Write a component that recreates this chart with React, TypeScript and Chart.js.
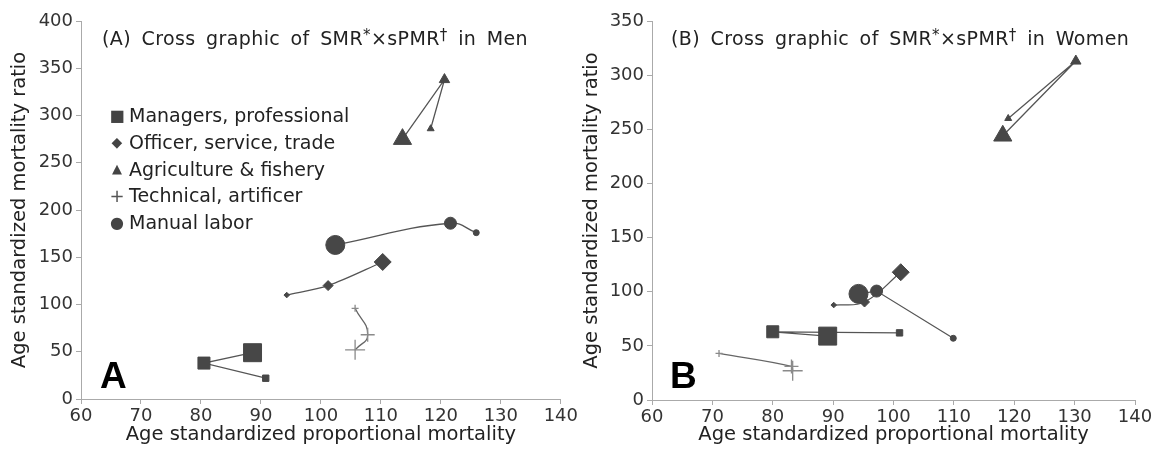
import React, { useEffect, useRef } from "react";
import { Chart, registerables } from "chart.js";

Chart.register(...registerables);

// ---------- data ----------
const groups = [
  "Managers, professional",
  "Officer, service, trade",
  "Agriculture & fishery",
  "Technical, artificer",
  "Manual labor",
];
const xTicks = [60, 70, 80, 90, 100, 110, 120, 130, 140];
const yTicksMen = [0, 50, 100, 150, 200, 250, 300, 350, 400];
const yTicksWomen = [0, 50, 100, 150, 200, 250, 300, 350];

// each series: three points, drawn large -> medium -> small marker
const menManagersX = [88.6, 80.5, 90.8];
const menManagersY = [49, 38, 22];
const menOfficerX = [110.3, 101.2, 94.3];
const menOfficerY = [145, 120, 110];
const menAgricultureX = [113.6, 120.6, 118.3];
const menAgricultureY = [275, 338, 286];
const menTechnicalX = [105.7, 107.8, 105.7];
const menTechnicalY = [52, 68, 96];
const menManualX = [102.4, 121.6, 125.9];
const menManualY = [163, 186, 176];

const womenManagersX = [89.1, 80.0, 101.0];
const womenManagersY = [59, 63, 62];
const womenOfficerX = [101.2, 95.2, 90.1];
const womenOfficerY = [118, 90.5, 87.7];
const womenAgricultureX = [118.1, 130.2, 119.0];
const womenAgricultureY = [244, 313, 260];
const womenTechnicalX = [83.3, 83.1, 71.1];
const womenTechnicalY = [27, 31, 43];
const womenManualX = [94.2, 97.2, 109.9];
const womenManualY = [98, 100.6, 57];

// ---------- styles ----------
const FONT = "DejaVu Sans";
const pointStyles = ["rect", "rectRot", "triangle", "cross", "circle"];
const radii = [
  [12.7, 8.5, 4.5],
  [8.5, 5, 2.8],
  [10.5, 6, 4],
  [10, 7, 3.5],
  [9.5, 6, 3],
];
const menTension = [0, 0.3, 0, 0.5, 0.45];
const womenTension = [0, 0.4, 0, 0.4, 0];

type Series = { x: number[]; y: number[] };

function buildDatasets(series: Series[], tensions: number[]) {
  return series.map((s, i) => ({
    label: groups[i],
    data: s.x.map((x, k) => ({ x, y: s.y[k] })),
    showLine: true,
    tension: tensions[i],
    borderColor: i === 3 ? "#666666" : "#555555",
    borderWidth: 1.3,
    pointStyle: pointStyles[i],
    pointRadius: radii[i],
    pointBackgroundColor: "#474747",
    pointBorderColor: i === 3 ? "#8a8a8a" : "#474747",
    pointBorderWidth: i === 3 ? 1.3 : 1,
    order: i === 4 ? -1 : i,
  }));
}

type PanelProps = {
  left: number;
  width: number;
  yMax: number;
  yTicks: number[];
  series: Series[];
  tensions: number[];
  yAxisWidth: number;
  xAxisHeight: number;
  padRight: number;
  yTitlePad: number;
  children?: React.ReactNode;
};

function Panel(p: PanelProps) {
  const ref = useRef<HTMLCanvasElement>(null);
  useEffect(() => {
    const axisColor = "#aaaaaa";
    const chart = new Chart(ref.current as HTMLCanvasElement, {
      type: "scatter",
      data: { datasets: buildDatasets(p.series, p.tensions) as any },
      options: {
        animation: false,
        responsive: true,
        maintainAspectRatio: false,
        events: [],
        layout: { padding: { left: 0, right: p.padRight, top: 21, bottom: 0 } },
        plugins: {
          legend: { display: false },
          tooltip: { enabled: false },
        },
        scales: {
          x: {
            type: "linear",
            min: 60,
            max: 140,
            afterBuildTicks: (s: any) => {
              s.ticks = xTicks.map((v) => ({ value: v }));
            },
            afterFit: (s: any) => {
              s.height = p.xAxisHeight;
            },
            grid: {
              display: true,
              drawOnChartArea: false,
              drawTicks: true,
              tickLength: 5,
              color: axisColor,
            },
            border: { display: true, color: axisColor, width: 1 },
            ticks: {
              font: { family: FONT, size: 18 },
              color: "#333333",
              padding: 2,
              maxRotation: 0,
              autoSkip: false,
            },
            title: {
              display: true,
              text: "Age standardized proportional mortality",
              font: { family: FONT, size: 19.5 },
              color: "#222222",
              padding: { top: 0, bottom: 3 },
            },
          },
          y: {
            type: "linear",
            min: 0,
            max: p.yMax,
            afterBuildTicks: (s: any) => {
              s.ticks = p.yTicks.map((v) => ({ value: v }));
            },
            afterFit: (s: any) => {
              s.width = p.yAxisWidth;
            },
            grid: {
              display: true,
              drawOnChartArea: false,
              drawTicks: true,
              tickLength: 5,
              color: axisColor,
            },
            border: { display: true, color: axisColor, width: 1 },
            ticks: {
              font: { family: FONT, size: 18 },
              color: "#333333",
              padding: 3,
              autoSkip: false,
            },
            title: {
              display: true,
              text: "Age standardized mortality ratio",
              font: { family: FONT, size: 19.5 },
              color: "#222222",
              padding: { top: p.yTitlePad, bottom: 0 },
            },
          },
        },
      } as any,
    });
    return () => chart.destroy();
  }, []);
  return (
    <div style={{ position: "absolute", left: p.left, top: 0, width: p.width, height: 450 }}>
      <canvas ref={ref} />
      {p.children}
    </div>
  );
}

const supStyle: React.CSSProperties = {
  fontSize: 15,
  verticalAlign: "top",
  position: "relative",
  top: -3,
};

function PanelTitle({ x, letter, who }: { x: number; letter: string; who: string }) {
  return (
    <div
      style={{
        position: "absolute",
        left: x,
        top: 28,
        font: `19px "${FONT}"`,
        lineHeight: "20px",
        color: "#222",
        whiteSpace: "nowrap",
        letterSpacing: "0.4px",
        wordSpacing: "4px",
      }}
    >
      ({letter}) Cross graphic of SMR<span style={supStyle}>*</span>×sPMR
      <span style={supStyle}>†</span> in {who}
    </div>
  );
}

const legendSymbols = ["■", "◆", "▲", "+", "●"];
const legendSymbolSize = [16, 14, 13, 18, 16];

function Legend() {
  return (
    <div style={{ position: "absolute", left: 108, top: 102, font: `19px "${FONT}"`, color: "#222" }}>
      {groups.map((g, i) => (
        <div key={g} style={{ display: "flex", alignItems: "center", height: 26.7, whiteSpace: "nowrap" }}>
          <span
            style={{
              display: "inline-block",
              width: 18,
              textAlign: "center",
              fontSize: legendSymbolSize[i],
              color: i === 3 ? "#555" : "#444",
            }}
          >
            {legendSymbols[i]}
          </span>
          <span style={{ marginLeft: 3 }}>{g}</span>
        </div>
      ))}
    </div>
  );
}

function BigLetter({ x, text }: { x: number; text: string }) {
  return (
    <div
      style={{
        position: "absolute",
        left: x,
        top: 357,
        font: `bold 37px "Liberation Sans"`,
        lineHeight: "37px",
        color: "#000",
      }}
    >
      {text}
    </div>
  );
}

export default function App() {
  const men: Series[] = [
    { x: menManagersX, y: menManagersY },
    { x: menOfficerX, y: menOfficerY },
    { x: menAgricultureX, y: menAgricultureY },
    { x: menTechnicalX, y: menTechnicalY },
    { x: menManualX, y: menManualY },
  ];
  const women: Series[] = [
    { x: womenManagersX, y: womenManagersY },
    { x: womenOfficerX, y: womenOfficerY },
    { x: womenAgricultureX, y: womenAgricultureY },
    { x: womenTechnicalX, y: womenTechnicalY },
    { x: womenManualX, y: womenManualY },
  ];
  return (
    <div style={{ position: "absolute", left: 0, top: 0, width: 1157, height: 450, background: "#fff", overflow: "hidden" }}>
      <Panel
        left={0}
        width={580}
        yMax={400}
        yTicks={yTicksMen}
        series={men}
        tensions={menTension}
        yAxisWidth={81}
        xAxisHeight={51}
        padRight={16}
        yTitlePad={8}
      >
        <PanelTitle x={102} letter="A" who="Men" />
        <Legend />
        <BigLetter x={100} text="A" />
      </Panel>
      <Panel
        left={580}
        width={577}
        yMax={350}
        yTicks={yTicksWomen}
        series={women}
        tensions={womenTension}
        yAxisWidth={72}
        xAxisHeight={50}
        padRight={22}
        yTitlePad={0}
      >
        <PanelTitle x={91} letter="B" who="Women" />
        <BigLetter x={90} text="B" />
      </Panel>
    </div>
  );
}
